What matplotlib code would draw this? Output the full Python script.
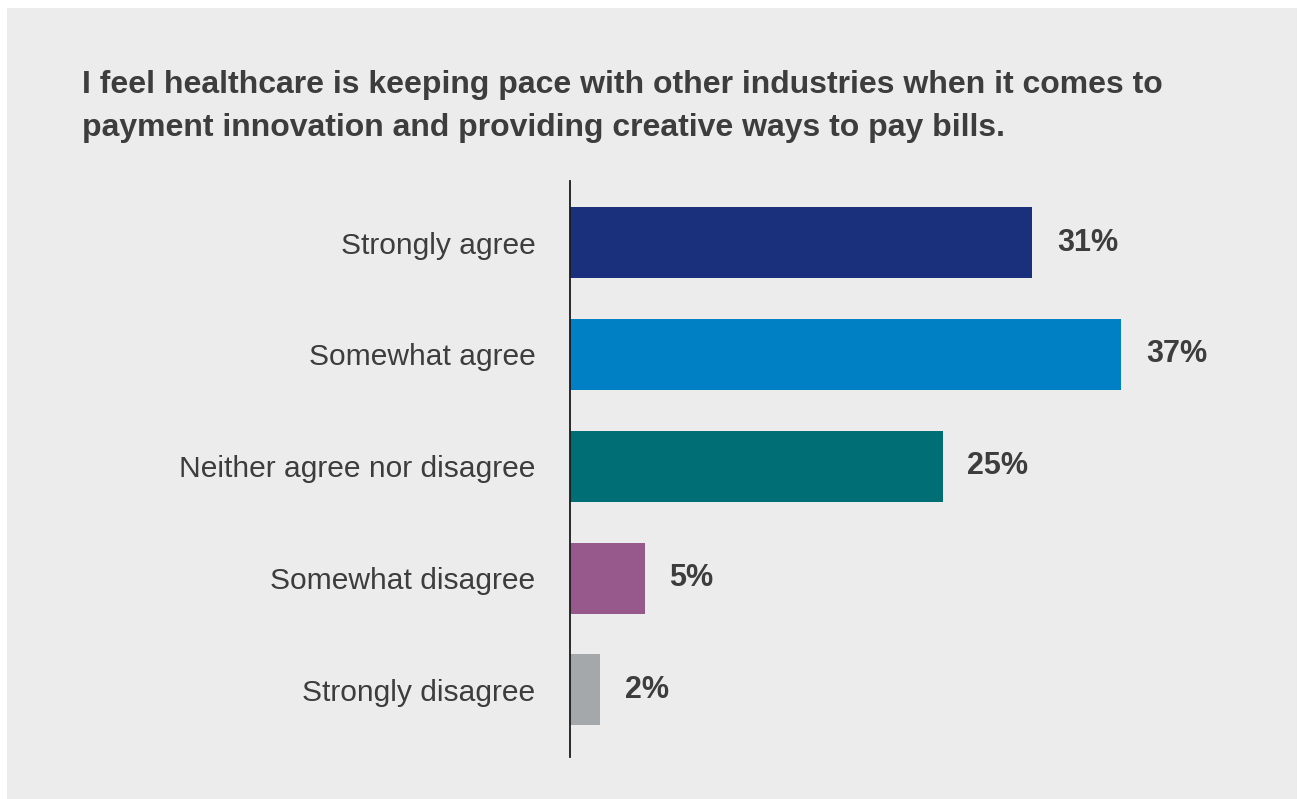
import matplotlib.pyplot as plt
from matplotlib.patches import Rectangle

plt.rcParams['font.family'] = ['Liberation Sans', 'DejaVu Sans']

title = ("I feel healthcare is keeping pace with other industries when it comes to\n"
         "payment innovation and providing creative ways to pay bills.")
categories = ["Strongly agree", "Somewhat agree", "Neither agree nor disagree",
              "Somewhat disagree", "Strongly disagree"]
values = [31, 37, 25, 5, 2]
colors = ["#1b307d", "#0080c4", "#006e75", "#97598c", "#a5a8ab"]

text_col = "#3d3d3d"
panel_col = "#ebeceb"

fig = plt.figure(figsize=(12.98, 7.99), dpi=100)
fig.patch.set_facecolor("white")
# grey panel behind everything
fig.patches.append(Rectangle((7 / 1298, -0.01), 1290 / 1298, 0.01 + 791 / 799,
                             transform=fig.transFigure, facecolor=panel_col,
                             edgecolor="none", zorder=-10))

fig.text(82 / 1298, 1 - 70 / 799, title, fontsize=23, fontweight="bold",
         color=text_col, va="top", ha="left", linespacing=1.58)

ax = fig.add_axes([570 / 1298, 42 / 799, 596 / 1298, 576 / 799])
ax.set_facecolor("none")

pos = list(range(len(categories)))
bars = ax.barh(pos, values, height=0.635, color=colors)
ax.set_xlim(0, 40)
ax.set_ylim(4.6, -0.55)

ax.set_yticks(pos)
ax.set_yticklabels(categories, fontsize=21.6, color=text_col)
ax.tick_params(axis="y", length=0, pad=25)
ax.set_xticks([])

for s in ["top", "right", "bottom"]:
    ax.spines[s].set_visible(False)
ax.spines["left"].set_linewidth(1.3)
ax.spines["left"].set_color("#1a1a1a")

for bar, v in zip(bars, values):
    ax.annotate(f"{v}%", (bar.get_width(), bar.get_y() + bar.get_height() / 2),
                xytext=(18, 0), textcoords="offset points", va="center", ha="left",
                fontsize=22, fontweight="bold", color=text_col)

fig.savefig("out.png", dpi=100)
